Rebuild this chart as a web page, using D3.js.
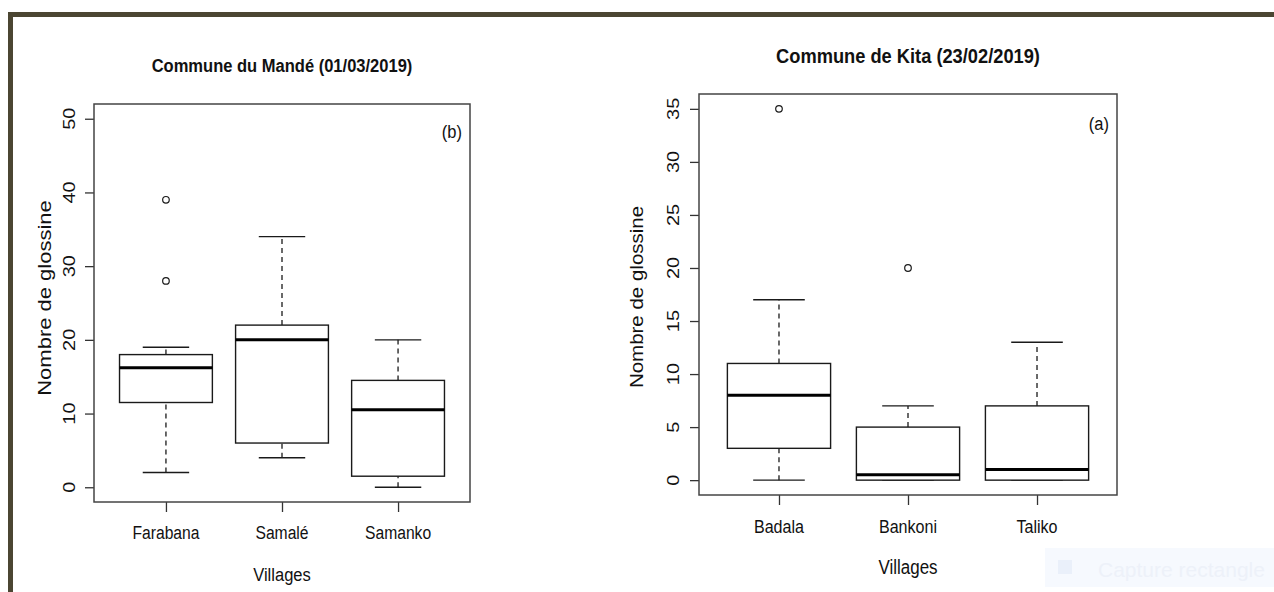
<!DOCTYPE html>
<html>
<head>
<meta charset="utf-8">
<script src="https://cdn.jsdelivr.net/npm/d3@7"></script>
<style>
  body { margin: 0; background: #fff; }
  svg { display: block; }
  text { font-family: "Liberation Sans", Arial, sans-serif; }
</style>
</head>
<body>
<div id="chart"></div>
<script>
// --- données (min, Q1, médiane, Q3, max des moustaches) ---
const villagesMande = ['Farabana', 'Samalé', 'Samanko'];
const statsMande = [
  [2, 11.5, 16.2, 18, 19],
  [4, 6, 20, 22, 34],
  [0, 1.5, 10.5, 14.5, 20]
];
const outliersMande = [[39, 28], [], []];
const ticksMande = [0, 10, 20, 30, 40, 50];

const villagesKita = ['Badala', 'Bankoni', 'Taliko'];
const statsKita = [
  [0, 3, 8, 11, 17],
  [0, 0, 0.5, 5, 7],
  [0, 0, 1, 7, 13]
];
const outliersKita = [[35], [20], []];
const ticksKita = [0, 5, 10, 15, 20, 25, 30, 35];

const W = 1274, H = 592;
const ink = '#1a1a1a';
const sx = 0.87; // la figure d'origine est légèrement écrasée en largeur

const svg = d3.select('#chart').append('svg')
  .attr('width', W).attr('height', H);

// cadre brun de la capture
svg.append('rect').attr('x', 8).attr('y', 12).attr('width', W - 8).attr('height', 5).attr('fill', '#4b4632');
svg.append('rect').attr('x', 8).attr('y', 12).attr('width', 5).attr('height', H - 12).attr('fill', '#4b4632');

// texte compressé horizontalement
function label(g, x, y, str, size, opts = {}) {
  const rot = opts.rotate ? ' rotate(-90)' : '';
  return g.append('text')
    .attr('transform', `translate(${x},${y}) scale(${sx},1)${rot}`)
    .attr('text-anchor', opts.anchor || 'middle')
    .attr('dominant-baseline', opts.baseline || 'auto')
    .attr('font-size', size)
    .attr('font-weight', opts.bold ? 'bold' : 'normal')
    .style('fill', '#111')
    .text(str);
}

const panels = [
  {
    title: 'Commune du Mandé (01/03/2019)', tag: '(b)',
    villages: villagesMande, stats: statsMande, outliers: outliersMande,
    ticks: ticksMande, ylim: [0, 50],
    frame: { l: 94, r: 470, t: 104, b: 502 },
    titleY: 72, titleSize: 19, tag_xy: [462, 138], ylabX: 44, ylabY: 298, tickLabX: 69,
    xLabY: 539, villagesY: 581, ylabSize: 22, tickSize: 18, yTickSize: 20
  },
  {
    title: 'Commune de Kita (23/02/2019)', tag: '(a)',
    villages: villagesKita, stats: statsKita, outliers: outliersKita,
    ticks: ticksKita, ylim: [0, 35],
    frame: { l: 699, r: 1117, t: 94, b: 495 },
    titleY: 63, titleSize: 21, tag_xy: [1109, 130], ylabX: 637, ylabY: 297, tickLabX: 673,
    xLabY: 533, villagesY: 574, ylabSize: 20.5, tickSize: 18.5, yTickSize: 20
  }
];

panels.forEach(p => {
  const g = svg.append('g');
  const f = p.frame;
  const span = p.ylim[1] - p.ylim[0];

  const x = d3.scaleLinear()
    .domain([0.5 - 0.12, p.villages.length + 0.5 + 0.12])
    .range([f.l, f.r]);
  const y = d3.scaleLinear()
    .domain([p.ylim[0] - 0.04 * span, p.ylim[1] + 0.04 * span])
    .range([f.b, f.t]);

  const boxHalf = (x(1.4) - x(1));
  const capHalf = boxHalf / 2;

  // axe Y
  const yAxis = d3.axisLeft(y).tickValues(p.ticks).tickSize(9).tickFormat('');
  const ya = g.append('g').attr('transform', `translate(${f.l},0)`).call(yAxis);
  ya.select('.domain').remove();
  ya.selectAll('line').attr('stroke', '#333').attr('stroke-width', 1.3);
  p.ticks.forEach(t => label(g, p.tickLabX, y(t), String(t), p.yTickSize, { rotate: true, baseline: 'central' }));

  // axe X
  const xAxis = d3.axisBottom(x).tickValues(d3.range(1, p.villages.length + 1)).tickSize(10).tickFormat('');
  const xa = g.append('g').attr('transform', `translate(0,${f.b})`).call(xAxis);
  xa.select('.domain').remove();
  xa.selectAll('line').attr('stroke', '#333').attr('stroke-width', 1.3);
  p.villages.forEach((v, i) => label(g, x(i + 1), p.xLabY, v, p.tickSize));

  // boîtes
  p.stats.forEach((s, i) => {
    const cx = x(i + 1);
    const [lo, q1, med, q3, hi] = s;
    const bg = g.append('g');
    // moustaches
    [[q3, hi], [lo, q1]].forEach(([a, b]) => {
      if (a === b) return;
      bg.append('line')
        .attr('x1', cx).attr('x2', cx).attr('y1', y(a)).attr('y2', y(b))
        .attr('stroke', ink).attr('stroke-width', 1.3).attr('stroke-dasharray', '5,4');
    });
    [lo, hi].forEach(v => {
      bg.append('line')
        .attr('x1', cx - capHalf).attr('x2', cx + capHalf).attr('y1', y(v)).attr('y2', y(v))
        .attr('stroke', ink).attr('stroke-width', 1.4);
    });
    bg.append('rect')
      .attr('x', cx - boxHalf).attr('y', y(q3))
      .attr('width', 2 * boxHalf).attr('height', y(q1) - y(q3))
      .attr('fill', '#fff').attr('stroke', ink).attr('stroke-width', 1.4);
    bg.append('line')
      .attr('x1', cx - boxHalf).attr('x2', cx + boxHalf).attr('y1', y(med)).attr('y2', y(med))
      .attr('stroke', '#000').attr('stroke-width', 3);
    p.outliers[i].forEach(o => {
      bg.append('circle')
        .attr('cx', cx).attr('cy', y(o)).attr('r', 3.3)
        .attr('fill', 'none').attr('stroke', ink).attr('stroke-width', 1.2);
    });
  });

  // cadre
  g.append('rect')
    .attr('x', f.l).attr('y', f.t).attr('width', f.r - f.l).attr('height', f.b - f.t)
    .attr('fill', 'none').attr('stroke', '#444').attr('stroke-width', 1.5);

  // textes
  label(g, (f.l + f.r) / 2, p.titleY, p.title, p.titleSize, { bold: true });
  label(g, p.tag_xy[0], p.tag_xy[1], p.tag, 19, { anchor: 'end' });
  label(g, p.ylabX, p.ylabY, 'Nombre de glossine', p.ylabSize, { rotate: true, baseline: 'central' });
  label(g, (f.l + f.r) / 2, p.villagesY, 'Villages', p.tickSize + 1);
});

// bandeau "Capture rectangle" presque invisible
svg.append('rect').attr('x', 1045).attr('y', 548).attr('width', W - 1045).attr('height', 39).attr('fill', '#f6f9fe');
svg.append('rect').attr('x', 1058).attr('y', 560).attr('width', 14).attr('height', 14).attr('fill', '#eaf0fa');
svg.append('text').attr('x', 1098).attr('y', 577).attr('font-size', 21).style('fill', '#edf1f9').text('Capture rectangle');
</script>
</body>
</html>
